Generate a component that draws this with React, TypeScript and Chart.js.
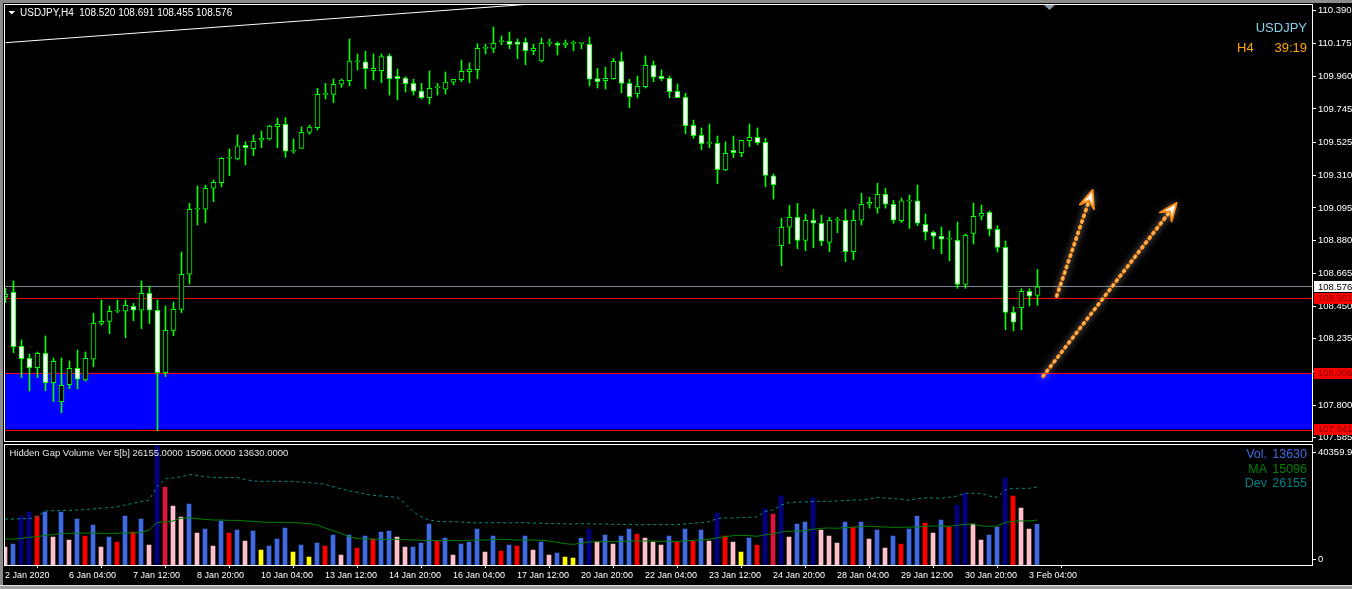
import React, { useEffect, useRef } from 'react';
import { Chart, registerables } from 'chart.js';

Chart.register(...registerables);

const FONT = '"Liberation Sans", Arial, sans-serif';

const SYMBOL = 'USDJPY';
const PERIOD = 'H4';
const BAR_TIMER = '39:19';

// H4 candles, 2 Jan 2020 20:00 .. 3 Feb 2020 04:00
const OPEN = [
  108.512, 108.541, 108.186, 108.107, 108.046, 108.140, 107.947, 107.822, 107.934, 108.042,
  107.965, 108.101, 108.337, 108.350, 108.416, 108.416, 108.449, 108.423, 108.534, 108.423,
  108.013, 108.291, 108.429, 108.659, 109.086, 109.086, 109.224, 109.261, 109.421, 109.416,
  109.506, 109.484, 109.539, 109.548, 109.628, 109.644, 109.467, 109.486, 109.591, 109.622,
  109.841, 109.841, 109.907, 109.930, 110.055, 110.055, 109.996, 109.996, 110.093, 109.959,
  109.948, 109.913, 109.863, 109.819, 109.885, 109.874, 109.920, 109.937, 109.990, 110.003,
  110.143, 110.143, 110.187, 110.189, 110.185, 110.182, 110.127, 110.060, 110.176, 110.176,
  110.163, 110.176, 110.176, 110.169, 109.944, 109.930, 109.944, 110.058, 109.913, 109.845,
  109.891, 110.031, 109.959, 109.946, 109.861, 109.821, 109.638, 109.572, 109.519, 109.519,
  109.344, 109.473, 109.457, 109.536, 109.559, 109.526, 109.306, 108.847, 108.968, 109.033,
  108.882, 109.014, 108.994, 108.869, 109.014, 109.014, 108.807, 109.014, 109.119, 109.093,
  109.184, 109.119, 109.011, 109.140, 109.142, 108.987, 108.935, 108.909, 108.889, 108.882,
  108.593, 108.928, 109.040, 109.066, 108.955, 108.836, 108.409, 108.440, 108.547, 108.520,
];
const HIGH = [
  108.567, 108.615, 108.228, 108.136, 108.149, 108.254, 108.109, 108.109, 108.090, 108.162,
  108.149, 108.403, 108.490, 108.451, 108.490, 108.490, 108.468, 108.615, 108.582, 108.490,
  108.451, 108.477, 108.805, 109.125, 109.239, 109.245, 109.278, 109.425, 109.482, 109.574,
  109.530, 109.574, 109.600, 109.639, 109.684, 109.688, 109.548, 109.628, 109.639, 109.880,
  109.913, 109.942, 109.942, 110.204, 110.106, 110.125, 110.106, 110.106, 110.106, 110.007,
  109.957, 109.940, 109.913, 109.994, 109.913, 109.988, 109.940, 110.066, 110.047, 110.173,
  110.171, 110.283, 110.224, 110.250, 110.204, 110.211, 110.171, 110.211, 110.204, 110.185,
  110.198, 110.191, 110.176, 110.217, 110.012, 110.020, 110.077, 110.119, 109.940, 109.961,
  110.093, 110.060, 110.001, 109.961, 109.909, 109.848, 109.672, 109.620, 109.646, 109.567,
  109.528, 109.567, 109.539, 109.646, 109.620, 109.552, 109.318, 109.027, 109.112, 109.125,
  109.053, 109.086, 109.047, 109.033, 109.033, 109.086, 109.079, 109.191, 109.165, 109.257,
  109.224, 109.145, 109.160, 109.180, 109.245, 109.055, 108.943, 108.970, 108.943, 109.002,
  108.924, 109.127, 109.114, 109.075, 108.978, 108.878, 108.446, 108.564, 108.564, 108.691,
];
const LOW = [
  108.472, 108.144, 107.980, 107.893, 107.980, 107.895, 107.822, 107.750, 107.908, 107.908,
  107.958, 108.052, 108.324, 108.269, 108.407, 108.243, 108.354, 108.302, 108.335, 107.632,
  107.987, 108.256, 108.407, 108.595, 108.983, 108.998, 109.136, 109.234, 109.307, 109.410,
  109.377, 109.438, 109.490, 109.541, 109.490, 109.427, 109.454, 109.486, 109.578, 109.607,
  109.810, 109.786, 109.887, 109.896, 110.001, 109.878, 109.935, 109.917, 109.836, 109.804,
  109.856, 109.836, 109.810, 109.777, 109.836, 109.843, 109.904, 109.924, 109.917, 109.944,
  110.106, 110.114, 110.167, 110.140, 110.075, 110.035, 110.101, 110.053, 110.158, 110.099,
  110.147, 110.127, 110.140, 109.896, 109.882, 109.876, 109.940, 109.850, 109.753, 109.817,
  109.882, 109.924, 109.930, 109.819, 109.819, 109.582, 109.552, 109.477, 109.490, 109.254,
  109.340, 109.425, 109.431, 109.497, 109.510, 109.234, 109.153, 108.716, 108.860, 108.827,
  108.814, 108.834, 108.847, 108.807, 108.932, 108.742, 108.755, 108.983, 109.093, 109.060,
  109.093, 108.994, 108.999, 108.961, 108.978, 108.884, 108.827, 108.794, 108.748, 108.567,
  108.567, 108.858, 109.016, 108.911, 108.805, 108.295, 108.288, 108.295, 108.451, 108.455,
];
const CLOSE = [
  108.528, 108.184, 108.105, 108.046, 108.140, 107.947, 108.088, 107.930, 108.042, 107.970,
  108.107, 108.337, 108.350, 108.416, 108.416, 108.455, 108.423, 108.534, 108.423, 108.013,
  108.291, 108.429, 108.659, 109.086, 109.086, 109.224, 109.263, 109.421, 109.421, 109.502,
  109.490, 109.532, 109.554, 109.633, 109.644, 109.467, 109.467, 109.591, 109.626, 109.841,
  109.841, 109.907, 109.935, 110.060, 110.055, 110.009, 110.012, 110.088, 109.944, 109.944,
  109.911, 109.861, 109.819, 109.880, 109.885, 109.922, 109.940, 109.992, 110.005, 110.143,
  110.143, 110.176, 110.187, 110.169, 110.169, 110.127, 110.143, 110.176, 110.176, 110.163,
  110.178, 110.176, 110.176, 109.940, 109.924, 109.946, 110.058, 109.913, 109.825, 109.894,
  110.031, 109.953, 109.944, 109.858, 109.819, 109.635, 109.569, 109.517, 109.519, 109.346,
  109.453, 109.457, 109.539, 109.559, 109.523, 109.309, 109.247, 108.968, 109.033, 108.882,
  109.014, 108.994, 108.876, 109.014, 109.014, 108.807, 109.014, 109.119, 109.132, 109.184,
  109.119, 109.014, 109.142, 109.140, 108.994, 108.935, 108.909, 108.889, 108.889, 108.593,
  108.915, 109.040, 109.060, 108.955, 108.836, 108.409, 108.344, 108.547, 108.515, 108.576,
];

// Hidden Gap Volume indicator buffers
const VOLUME = [
  6039, 7045, 16440, 17780, 16440, 17780, 9394, 17780, 8388, 15433,
  9730, 13420, 6039, 9394, 7717, 16440, 11072, 15433, 6710, 40360,
  26169, 19795, 16104, 20466, 10736, 12078, 6375, 14762, 10736, 11743,
  8052, 11407, 5033, 6375, 8723, 12414, 4362, 6710, 2684, 7381,
  6375, 10065, 3355, 10065, 5704, 9730, 8723, 11072, 11407, 9394,
  6039, 6039, 7381, 13756, 8052, 9059, 3355, 7045, 7717, 12078,
  4362, 9730, 4697, 6710, 6375, 9730, 5033, 7717, 3355, 4026,
  2684, 2349, 9059, 12078, 7717, 10065, 7045, 9730, 12078, 10401,
  9059, 7717, 6710, 9730, 7717, 12078, 8052, 11743, 8052, 17446,
  9730, 7717, 4362, 9059, 6710, 18788, 17111, 23150, 9394, 13756,
  14427, 22479, 11743, 9730, 7381, 14427, 12749, 14427, 8723, 11743,
  5704, 9730, 7045, 12078, 16440, 14091, 10736, 15098, 12749, 20130,
  24156, 13756, 8388, 10065, 12749, 29189, 23150, 19124, 12078, 13630,
];
// b = normal, p = weak, r = strong, c = climax, n = gap, y = low
const VOL_CLASS = (
  'p b n n r b p b p b r b p b r b r b p n c p p b p b p b r b ' +
  'p b y b b b y b y b r b p b r b r b b p p b b b r b ' +
  'p b b b p b r b r b p b p b y y b n p b p b b r p p p b r b ' +
  'r b p n r p y b r n c n p b b n p p p b r b p b p b ' +
  'r b b r p b r n n p p b b n r p p b'
).split(' ');
const VOL_MA = [
  8835, 8611, 8947, 9282, 9506, 9953, 10177, 10624, 10624, 10624,
  10736, 10736, 10624, 10624, 10624, 10736, 10736, 10848, 11743, 14203,
  14538, 14762, 15657, 15880, 15545, 15321, 15098, 15098, 14985, 14985,
  14762, 14650, 14427, 14315, 14315, 14315, 14203, 14091, 13868, 13420,
  12414, 11519, 10624, 9506, 8835, 8723, 8723, 8611, 8611, 8611,
  8500, 8388, 8276, 8276, 8164, 8276, 8164, 8164, 8276, 8388,
  8388, 8500, 8611, 8500, 8388, 8388, 8388, 8276, 8052, 7605,
  7157, 6934, 7269, 7717, 7828, 7828, 7828, 7940, 7940, 8052,
  8052, 8052, 7940, 7940, 7940, 8052, 8276, 8388, 8611, 9059,
  9506, 9842, 9953, 9842, 9618, 10177, 10401, 11072, 11295, 11407,
  11519, 11966, 12302, 12414, 12302, 12526, 12637, 12973, 12973, 12861,
  12749, 12637, 12637, 12749, 12749, 12973, 13085, 13085, 12973, 13309,
  13644, 13756, 13085, 12973, 13085, 14203, 14650, 14762, 14762, 15096,
];
const VOL_DEV = [
  15433, 15433, 15545, 15545, 16216, 18117, 18229, 18229, 18341, 18453,
  18564, 18788, 19012, 19236, 19571, 20130, 20689, 21248, 21807, 26281,
  28853, 29189, 29636, 30307, 30083, 29636, 29300, 29300, 29300, 29300,
  28741, 28181, 28069, 28069, 28069, 28069, 28069, 27846, 27622, 27399,
  27063, 26281, 25610, 24939, 24380, 23820, 23373, 23150, 22926, 22703,
  20689, 17893, 16216, 15098, 14650, 14538, 14538, 14427, 14203, 14091,
  14203, 14203, 14203, 14091, 14203, 14203, 14091, 13980, 13868, 13868,
  13868, 13756, 13868, 13868, 13756, 13756, 13644, 13644, 13644, 13533,
  13533, 13533, 13533, 13533, 13533, 13756, 13980, 14203, 14538, 15545,
  15768, 15768, 15880, 15992, 16104, 17893, 18453, 20130, 20913, 21136,
  21136, 21360, 21360, 21360, 21472, 21583, 21807, 21807, 22031, 22703,
  22479, 22255, 22031, 21695, 22255, 22479, 22479, 22367, 22703, 23150,
  24045, 24045, 24045, 23150, 22703, 25163, 25722, 25722, 25722, 26155,
];

const PRICE_TICKS = [
  110.39, 110.175, 109.96, 109.745, 109.525, 109.31, 109.095, 108.88,
  108.665, 108.45, 108.235, 108.02, 107.8, 107.585,
];
const TIME_TICKS = [0, 8, 16, 24, 32, 40, 48, 56, 64, 72, 80, 88, 96, 104, 112, 120, 128];
const TIME_LABELS = [
  '2 Jan 2020', '6 Jan 04:00', '7 Jan 12:00', '8 Jan 20:00', '10 Jan 04:00',
  '13 Jan 12:00', '14 Jan 20:00', '16 Jan 04:00', '17 Jan 12:00', '20 Jan 20:00',
  '22 Jan 04:00', '23 Jan 12:00', '24 Jan 20:00', '28 Jan 04:00', '29 Jan 12:00',
  '30 Jan 20:00', '3 Feb 04:00',
];
const VOL_AXIS_LABELS = [40359.9, 0];

// chart objects
const ALERT_LEVEL = 108.501;
const ZONE_TOP = 108.006;
const ZONE_BOTTOM = 107.641;
const TREND_BARS = [0, 80];
const TREND_PRICES = [110.18, 110.489];
const ARROW_START_BARS = [131.4, 129.7];
const ARROW_START_PRICES = [108.516, 107.99];
const ARROW_END_BARS = [135.9, 146.4];
const ARROW_END_PRICES = [109.213, 109.129];

const LAST = OPEN.length - 1;
const BARS = OPEN.map((_, i) => i);
const BID = CLOSE[LAST];

const PRICE_MIN = 107.5642;
const PRICE_MAX = 110.4275;
const VOL_MAX = 40359.9;

const AXIS_FONT_SIZE = 9.5;
const CANDLE_LINE = '#00ff00';
const VOL_COLORS: Record<string, string> = {
  b: '#4169e1', p: '#ffc0cb', r: '#ff0000', c: '#dc143c', n: '#000080', y: '#ffff00',
};

function hline(ctx: CanvasRenderingContext2D, a: any, py: number, color: string) {
  ctx.fillStyle = color;
  ctx.fillRect(a.left, Math.round(py - 0.5), a.right - a.left, 1);
}

function drawArrow(ctx: CanvasRenderingContext2D, x0: number, y0: number, x1: number, y1: number) {
  const dx = x1 - x0;
  const dy = y1 - y0;
  const len = Math.hypot(dx, dy);
  const ux = dx / len;
  const uy = dy / len;
  const nx = -uy;
  const ny = ux;
  const headLen = 18;
  const headW = 7.5;
  const notch = 11;
  const bx = x1 - ux * notch;
  const by = y1 - uy * notch;
  ctx.save();
  ctx.lineCap = 'round';
  ctx.setLineDash([1.4, 4.6]);
  ctx.shadowColor = 'rgba(255,255,255,0.5)';
  ctx.shadowBlur = 7;
  ctx.strokeStyle = '#ff8a14';
  ctx.lineWidth = 4;
  ctx.beginPath();
  ctx.moveTo(x0, y0);
  ctx.lineTo(bx, by);
  ctx.stroke();
  ctx.shadowBlur = 0;
  ctx.strokeStyle = '#ffd49a';
  ctx.lineWidth = 1.4;
  ctx.stroke();
  ctx.setLineDash([]);
  ctx.beginPath();
  ctx.moveTo(x1, y1);
  ctx.lineTo(x1 - ux * headLen + nx * headW, y1 - uy * headLen + ny * headW);
  ctx.lineTo(bx, by);
  ctx.lineTo(x1 - ux * headLen - nx * headW, y1 - uy * headLen - ny * headW);
  ctx.closePath();
  ctx.shadowColor = 'rgba(255,255,255,0.5)';
  ctx.shadowBlur = 7;
  ctx.fillStyle = '#fff8ee';
  ctx.fill();
  ctx.shadowBlur = 0;
  ctx.strokeStyle = '#ff8a14';
  ctx.lineWidth = 1.8;
  ctx.lineJoin = 'round';
  ctx.stroke();
  ctx.restore();
}

const mainDecor = {
  id: 'mainDecor',
  beforeDatasetsDraw(chart: any) {
    const { ctx, chartArea: a, scales } = chart;
    const y = scales.y;
    ctx.save();
    ctx.beginPath();
    ctx.rect(a.left, a.top, a.right - a.left, a.bottom - a.top);
    ctx.clip();
    const zt = y.getPixelForValue(ZONE_TOP);
    const zb = y.getPixelForValue(ZONE_BOTTOM);
    ctx.fillStyle = '#0000ff';
    ctx.fillRect(a.left, zt - 1, a.right - a.left, zb - zt + 1);
    hline(ctx, a, zt, '#ff0000');
    hline(ctx, a, zb + 1, '#ff0000');
    hline(ctx, a, y.getPixelForValue(BID), '#778899');
    hline(ctx, a, y.getPixelForValue(ALERT_LEVEL), '#ff0000');
    ctx.restore();
  },
  afterDatasetsDraw(chart: any) {
    const { ctx, chartArea: a, scales } = chart;
    const { x, y } = scales;
    ctx.save();
    ctx.beginPath();
    ctx.rect(a.left, a.top, a.right - a.left, a.bottom - a.top);
    ctx.clip();
    for (let i = 0; i < ARROW_START_BARS.length; i++) {
      drawArrow(
        ctx,
        x.getPixelForValue(ARROW_START_BARS[i]), y.getPixelForValue(ARROW_START_PRICES[i]),
        x.getPixelForValue(ARROW_END_BARS[i]), y.getPixelForValue(ARROW_END_PRICES[i]),
      );
    }
    ctx.restore();

    ctx.save();
    // pane frame
    ctx.strokeStyle = '#ffffff';
    ctx.lineWidth = 1;
    ctx.strokeRect(a.left - 0.5, a.top - 0.5, a.right - a.left + 1, a.bottom - a.top + 1);
    // chart shift marker
    ctx.fillStyle = '#8a96a3';
    ctx.beginPath();
    ctx.moveTo(1044, 5);
    ctx.lineTo(1055, 5);
    ctx.lineTo(1049.5, 10);
    ctx.closePath();
    ctx.fill();
    // header
    ctx.fillStyle = '#ffffff';
    ctx.beginPath();
    ctx.moveTo(8.5, 11);
    ctx.lineTo(15, 11);
    ctx.lineTo(11.75, 14.5);
    ctx.closePath();
    ctx.fill();
    ctx.font = `10px ${FONT}`;
    ctx.textBaseline = 'middle';
    ctx.textAlign = 'left';
    const ohlc = [OPEN[LAST], HIGH[LAST], LOW[LAST], CLOSE[LAST]].map((v) => v.toFixed(3)).join(' ');
    ctx.fillText(`${SYMBOL},${PERIOD}  ${ohlc}`, 20, 13);
    // symbol / timer
    ctx.font = `13px ${FONT}`;
    ctx.textAlign = 'right';
    ctx.fillStyle = '#87ceeb';
    ctx.fillText(SYMBOL, 1307, 28.5);
    ctx.fillStyle = '#ffa500';
    ctx.fillText(BAR_TIMER, 1307, 48.5);
    ctx.textAlign = 'left';
    ctx.fillText(PERIOD, 1237, 48.5);
    ctx.restore();
  },
  afterDraw(chart: any) {
    const { ctx, scales } = chart;
    const y = scales.y;
    const boxes = [
      { p: BID, bg: '#ffffff', fg: '#000000' },
      { p: ALERT_LEVEL, bg: '#ff0000', fg: '#7a0000' },
      { p: ZONE_TOP, bg: '#ff0000', fg: '#7a0000' },
      { p: ZONE_BOTTOM, bg: '#ff0000', fg: '#7a0000' },
    ];
    ctx.save();
    ctx.font = `${AXIS_FONT_SIZE}px ${FONT}`;
    ctx.textBaseline = 'middle';
    ctx.textAlign = 'left';
    for (const b of boxes) {
      const py = y.getPixelForValue(b.p);
      ctx.fillStyle = b.bg;
      ctx.fillRect(1314, Math.round(py - 5.5), 38, 11);
      ctx.fillStyle = b.fg;
      ctx.fillText(b.p.toFixed(3), 1318, py);
    }
    ctx.restore();
  },
};

const volDecor = {
  id: 'volDecor',
  afterDatasetsDraw(chart: any) {
    const { ctx, chartArea: a } = chart;
    ctx.save();
    ctx.strokeStyle = '#ffffff';
    ctx.lineWidth = 1;
    const top = Math.round(a.top);
    ctx.strokeRect(a.left - 0.5, top - 0.5, a.right - a.left + 1, a.bottom - top + 1);
    ctx.font = `${AXIS_FONT_SIZE}px ${FONT}`;
    ctx.textBaseline = 'middle';
    ctx.textAlign = 'left';
    ctx.fillStyle = '#e6e6e6';
    ctx.fillText(
      `Hidden Gap Volume Ver 5[b] ${VOL_DEV[LAST].toFixed(4)} ${VOL_MA[LAST].toFixed(4)} ${VOLUME[LAST].toFixed(4)}`,
      9.5, 11.5,
    );
    const rows = [
      { name: 'Vol.', v: VOLUME[LAST], c: '#4169e1' },
      { name: 'MA', v: VOL_MA[LAST], c: '#008000' },
      { name: 'Dev', v: VOL_DEV[LAST], c: '#008080' },
    ];
    ctx.font = `12.5px ${FONT}`;
    rows.forEach((r, i) => {
      const yy = 12.5 + i * 14.6;
      ctx.fillStyle = r.c;
      ctx.textAlign = 'right';
      ctx.fillText(String(r.v), 1307, yy);
      ctx.fillText(r.name, 1267, yy);
    });
    ctx.restore();
  },
  afterDraw(chart: any) {
    const { ctx, chartArea: a, scales } = chart;
    const y = scales.y;
    ctx.save();
    ctx.font = `${AXIS_FONT_SIZE}px ${FONT}`;
    ctx.textBaseline = 'middle';
    ctx.textAlign = 'left';
    ctx.fillStyle = '#ffffff';
    for (const v of VOL_AXIS_LABELS) {
      const py = Math.min(Math.max(y.getPixelForValue(v), a.top + 7.3), a.bottom - 6);
      ctx.fillRect(1313, Math.round(py - 0.5), 3, 1);
      ctx.fillText(String(v), 1318, py);
    }
    ctx.restore();
  },
};

function fixedWidth(w: number) {
  return (s: any) => {
    s.width = w;
    s.paddingTop = 0;
    s.paddingBottom = 0;
  };
}

export default function App() {
  const mainRef = useRef<HTMLCanvasElement>(null);
  const volRef = useRef<HTMLCanvasElement>(null);

  useEffect(() => {
    Chart.defaults.font.family = FONT;

    const main = new Chart(mainRef.current as HTMLCanvasElement, {
      type: 'bar',
      data: {
        datasets: [
          {
            type: 'bar',
            data: BARS.map((i) => ({ x: i, y: [OPEN[i], CLOSE[i]] })) as any,
            backgroundColor: BARS.map((i) => (CLOSE[i] < OPEN[i] ? '#ffffff' : '#000000')),
            borderColor: CANDLE_LINE,
            borderWidth: 1,
            borderSkipped: false,
            barThickness: 5,
            minBarLength: 1,
            grouped: false,
            order: 0,
          } as any,
          {
            type: 'bar',
            data: BARS.map((i) => ({ x: i, y: [LOW[i], HIGH[i]] })) as any,
            backgroundColor: CANDLE_LINE,
            borderWidth: 0,
            barThickness: 1,
            grouped: false,
            order: 1,
          } as any,
          {
            type: 'line',
            data: TREND_BARS.map((b, i) => ({ x: b, y: TREND_PRICES[i] })) as any,
            borderColor: '#ffffff',
            borderWidth: 1,
            pointRadius: 0,
            order: 2,
          } as any,
        ],
      },
      options: {
        responsive: false,
        maintainAspectRatio: false,
        animation: false,
        devicePixelRatio: 1,
        events: [],
        layout: { padding: { left: 5, top: 5, right: 0, bottom: 1 } },
        plugins: { legend: { display: false }, tooltip: { enabled: false } },
        scales: {
          x: { type: 'linear', display: false, offset: false, min: -0.0625, max: 163.3125 },
          y: {
            type: 'linear',
            position: 'right',
            min: PRICE_MIN,
            max: PRICE_MAX,
            afterBuildTicks: (s: any) => {
              s.ticks = PRICE_TICKS.map((v) => ({ value: v }));
            },
            afterFit: fixedWidth(40),
            ticks: {
              autoSkip: false,
              color: '#ffffff',
              font: { size: AXIS_FONT_SIZE, family: FONT },
              padding: 2,
              callback: (v: any) => Number(v).toFixed(3),
            },
            grid: { drawOnChartArea: false, drawTicks: true, tickLength: 4, color: '#ffffff' },
            border: { display: false },
          },
        } as any,
      },
      plugins: [mainDecor],
    });

    const vol = new Chart(volRef.current as HTMLCanvasElement, {
      type: 'bar',
      data: {
        datasets: [
          {
            type: 'line',
            data: BARS.map((i) => ({ x: i, y: VOL_DEV[i] })) as any,
            borderColor: '#008b8b',
            borderWidth: 1,
            borderDash: [3, 3],
            pointRadius: 0,
            order: 0,
          } as any,
          {
            type: 'line',
            data: BARS.map((i) => ({ x: i, y: VOL_MA[i] })) as any,
            borderColor: '#008000',
            borderWidth: 1,
            pointRadius: 0,
            order: 1,
          } as any,
          {
            type: 'bar',
            data: BARS.map((i) => ({ x: i, y: VOLUME[i] })) as any,
            backgroundColor: VOL_CLASS.map((c) => VOL_COLORS[c]),
            borderWidth: 0,
            barThickness: 4,
            grouped: false,
            order: 2,
          } as any,
        ],
      },
      options: {
        responsive: false,
        maintainAspectRatio: false,
        animation: false,
        devicePixelRatio: 1,
        events: [],
        layout: { padding: { left: 5, top: 2.7, right: 0, bottom: 0 } },
        plugins: { legend: { display: false }, tooltip: { enabled: false } },
        scales: {
          x: {
            type: 'linear',
            offset: false,
            min: 0,
            max: 163.375,
            afterBuildTicks: (s: any) => {
              s.ticks = TIME_TICKS.map((v) => ({ value: v }));
            },
            afterFit: (s: any) => {
              s.height = 24;
              s.paddingLeft = 0;
              s.paddingRight = 0;
            },
            ticks: {
              autoSkip: false,
              maxRotation: 0,
              minRotation: 0,
              align: 'start',
              color: '#ffffff',
              font: { size: 9, family: FONT },
              padding: 2,
              callback: (v: any) => TIME_LABELS[TIME_TICKS.indexOf(Number(v))] ?? '',
            },
            grid: { drawOnChartArea: false, drawTicks: true, tickLength: 3, color: '#ffffff' },
            border: { display: false },
          },
          y: {
            type: 'linear',
            position: 'right',
            min: 0,
            max: VOL_MAX,
            afterFit: fixedWidth(40),
            ticks: { display: false },
            grid: { display: false },
            border: { display: false },
          },
        } as any,
      },
      plugins: [volDecor],
    });

    return () => {
      main.destroy();
      vol.destroy();
    };
  }, []);

  return (
    <div
      style={{
        position: 'fixed',
        left: 0,
        top: 0,
        width: 1352,
        height: 589,
        background: '#000000',
        overflow: 'hidden',
      }}
    >
      <canvas
        ref={mainRef}
        width={1352}
        height={442}
        style={{ position: 'absolute', left: 0, top: 0, width: 1352, height: 442 }}
      />
      <canvas
        ref={volRef}
        width={1352}
        height={147}
        style={{ position: 'absolute', left: 0, top: 442, width: 1352, height: 147 }}
      />
      <div style={{ position: 'absolute', left: 0, top: 0, width: 1352, height: 3, background: '#8c8c8c' }} />
      <div style={{ position: 'absolute', left: 0, top: 0, width: 3, height: 589, background: '#8c8c8c' }} />
      <div style={{ position: 'absolute', left: 0, top: 585, width: 1352, height: 1, background: '#e0e0e0' }} />
      <div style={{ position: 'absolute', left: 0, top: 586, width: 1352, height: 3, background: '#a0a0a0' }} />
    </div>
  );
}
